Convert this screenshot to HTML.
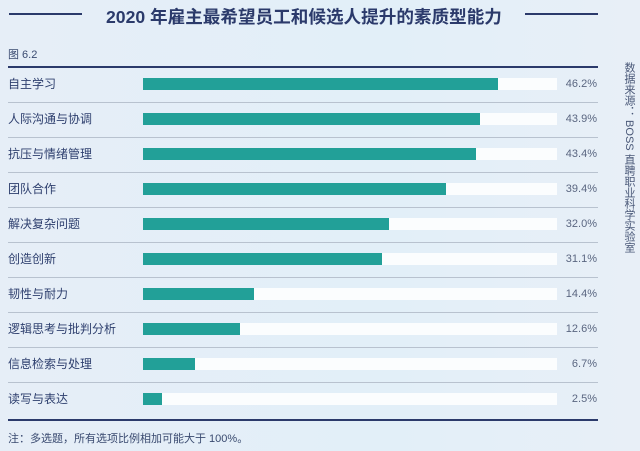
<!DOCTYPE html>
<html><head><meta charset="utf-8"><style>
body{margin:0;width:640px;height:451px;overflow:hidden;background:linear-gradient(90deg,#e6eef7,#e2eff8 60%,#e8eff7);font-family:"Liberation Sans","Noto Sans CJK SC",sans-serif;position:relative}
.a{position:absolute}
.lab{left:8px;font-size:12px;color:#2e3f6e;line-height:14px}
.pct{right:43px;font-size:11px;color:#5a6680;line-height:14px}
.trk{left:143px;width:414px;height:12px;background:#fbfdfe}
.bar{left:143px;height:12px;background:#22a098}
.sep{left:8px;width:590px;height:1px;background:#b8c2cf}
</style></head><body>
<div class="a" style="left:9px;top:13px;width:73px;height:2px;background:#2b3a6b"></div>
<div class="a" style="left:525px;top:13px;width:73px;height:2px;background:#2b3a6b"></div>
<div class="a" style="left:106px;top:4px;font-size:17.6px;font-weight:bold;color:#2b3a6b;white-space:nowrap">2020 年雇主最希望员工和候选人提升的素质型能力</div>
<div class="a" style="left:8px;top:46px;font-size:11px;color:#3a4a70">图 6.2</div>
<div class="a" style="left:8px;top:66px;width:590px;height:2px;background:#2b3a6b"></div>
<div class="a" style="left:8px;top:419px;width:590px;height:2px;background:#2b3a6b"></div>
<div class="a" style="left:8px;top:430px;font-size:11px;color:#3a4a70;white-space:nowrap">注：多选题，所有选项比例相加可能大于 100%。</div>
<div class="a" style="left:621px;top:62px;writing-mode:vertical-rl;font-size:11px;color:#4a5878;white-space:nowrap">数据来源： BOSS 直聘职业科学实验室</div>
<div id="rows"></div>
<script>
var d=[["自主学习",46.2],["人际沟通与协调",43.9],["抗压与情绪管理",43.4],["团队合作",39.4],["解决复杂问题",32.0],["创造创新",31.1],["韧性与耐力",14.4],["逻辑思考与批判分析",12.6],["信息检索与处理",6.7],["读写与表达",2.5]];
var h="";
d.forEach(function(r,i){var c=84+35*i;
h+='<div class="a lab" style="top:'+(c-7)+'px">'+r[0]+'</div>';
h+='<div class="a trk" style="top:'+(c-6)+'px"></div>';
h+='<div class="a bar" style="top:'+(c-6)+'px;width:'+(r[1]*7.68).toFixed(1)+'px"></div>';
h+='<div class="a pct" style="top:'+(c-7)+'px">'+r[1].toFixed(1)+'%</div>';
if(i<9)h+='<div class="a sep" style="top:'+(c+18)+'px"></div>';});
document.getElementById("rows").innerHTML=h;
</script>
</body></html>
